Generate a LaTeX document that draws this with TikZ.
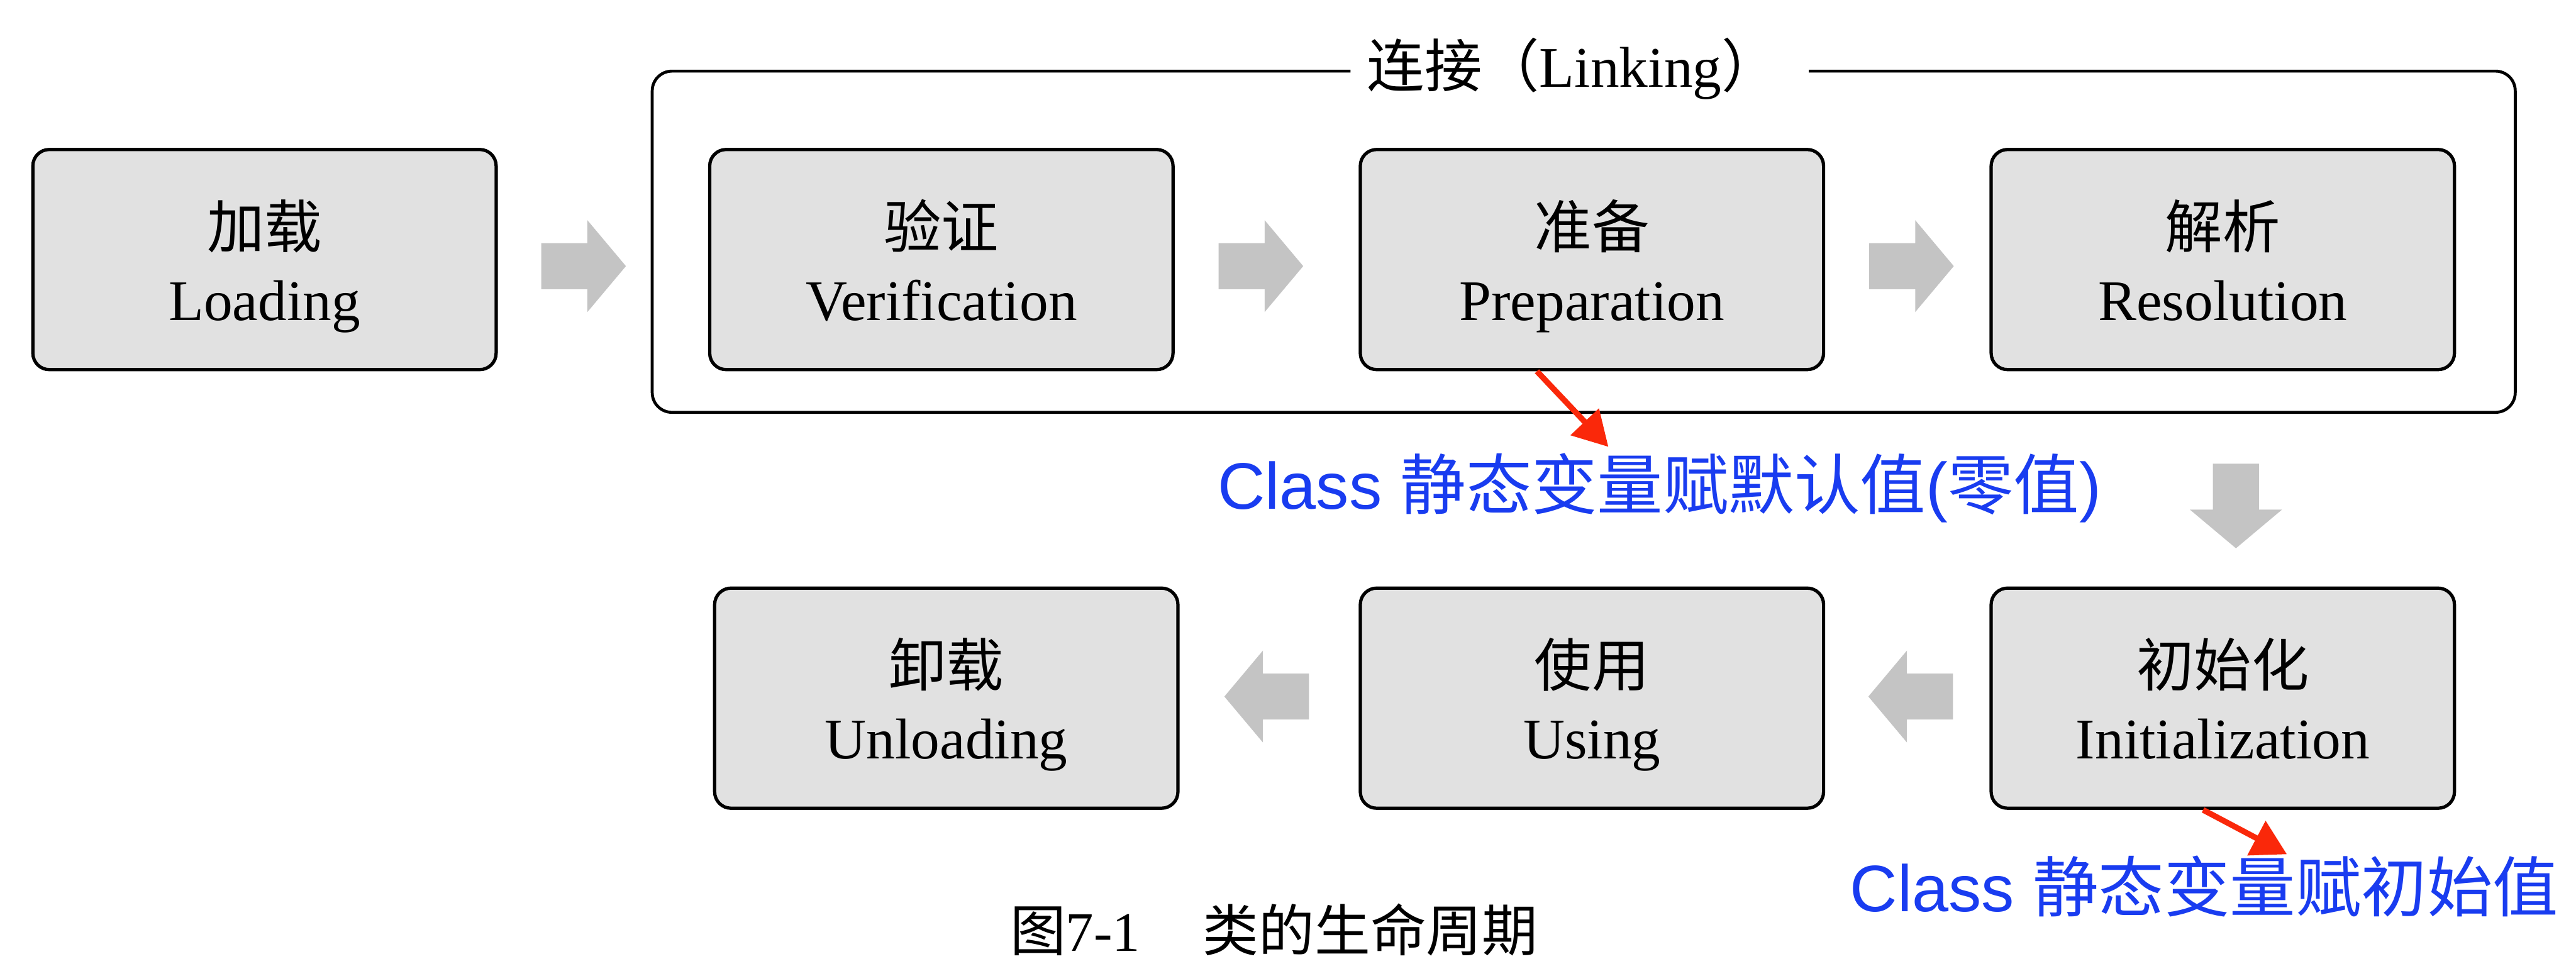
\documentclass[tikz,border=0pt]{standalone}
\usepackage{fontspec}
\setmainfont{Liberation Serif}
\newfontfamily\cjk{Noto Sans CJK SC}
\newfontfamily\arialf{Liberation Sans}
\usetikzlibrary{arrows.meta}
\definecolor{boxfill}{RGB}{225,225,225}
\definecolor{arrowgray}{RGB}{196,196,196}
\definecolor{notered}{RGB}{250,40,10}
\definecolor{noteblue}{RGB}{25,60,240}
\newcommand\twoline[2]{\makebox[0pt]{\raisebox{7pt}[0pt][0pt]{\cjk #1}}\makebox[0pt]{\raisebox{-37pt}[0pt][0pt]{#2}}}
\begin{document}
\begin{tikzpicture}[x=1pt,y=-1pt,
  stage/.style={draw=black, line width=2pt, fill=boxfill, rounded corners=10pt,
    minimum width=282pt, minimum height=134pt, inner sep=0pt,
    text height=0pt, text depth=0pt, font=\fontsize{35}{40}\selectfont},
  note/.style={text=noteblue, inner sep=0pt, font=\arialf\fontsize{40}{48}\selectfont},
  notearrow/.style={draw=notered, line width=3.5pt, -{Triangle[length=21pt,width=23pt]}},
  blockarrow/.pic={\fill[arrowgray] (-25.75,-14) -- (2.25,-14) -- (2.25,-28) -- (25.75,0)
      -- (2.25,28) -- (2.25,14) -- (-25.75,14) -- cycle;}
]
\useasboundingbox (0,0) rectangle (1568,594);

% linking frame
\draw[line width=1.8pt, rounded corners=12pt] (822,43.3) -- (397,43.3) -- (397,251)
  -- (1531,251) -- (1531,43.3) -- (1101,43.3);
\node[anchor=base, inner sep=0pt, font=\fontsize{35}{40}\selectfont] (linklabel) at (957.5,53)
  {{\cjk 连接（}Linking{\cjk ）}};

% stages
\node[stage] (load)  at (161,158) {\twoline{加载}{Loading}};
\node[stage] (verif) at (573,158) {\twoline{验证}{Verification}};
\node[stage] (prep)  at (969,158) {\twoline{准备}{Preparation}};
\node[stage] (resol) at (1353,158) {\twoline{解析}{Resolution}};
\node[stage] (init)  at (1353,425) {\twoline{初始化}{Initialization}};
\node[stage] (using) at (969,425) {\twoline{使用}{Using}};
\node[stage] (unload) at (576,425) {\twoline{卸载}{Unloading}};

% block arrows
\pic at (355.25,162) {blockarrow};
\pic at (767.5,162) {blockarrow};
\pic at (1163.5,162) {blockarrow};
\pic[rotate=-90] at (1361,308) {blockarrow};
\pic[rotate=180] at (1163,424) {blockarrow};
\pic[rotate=180] at (771,424) {blockarrow};

% notes
\node[note, anchor=base west] (note1) at (741,310) {Class {\cjk 静态变量赋默认值}({\cjk 零值})};
\node[note, anchor=base west] (note2) at (1126,555) {Class {\cjk 静态变量赋初始值}};
\coordinate (tip1) at (979,272);
\coordinate (tip2) at (1392,520);
\draw[notearrow] ([xshift=-33.5pt]prep.south) -- (tip1);
\draw[notearrow] ([xshift=-12pt]init.south) -- (tip2);

% caption
\node[anchor=base, inner sep=0pt, font=\fontsize{34}{40}\selectfont] (caption) at (775.5,579)
  {{\cjk 图}7-1\hspace{38pt}{\cjk 类的生命周期}};
\end{tikzpicture}
\end{document}
